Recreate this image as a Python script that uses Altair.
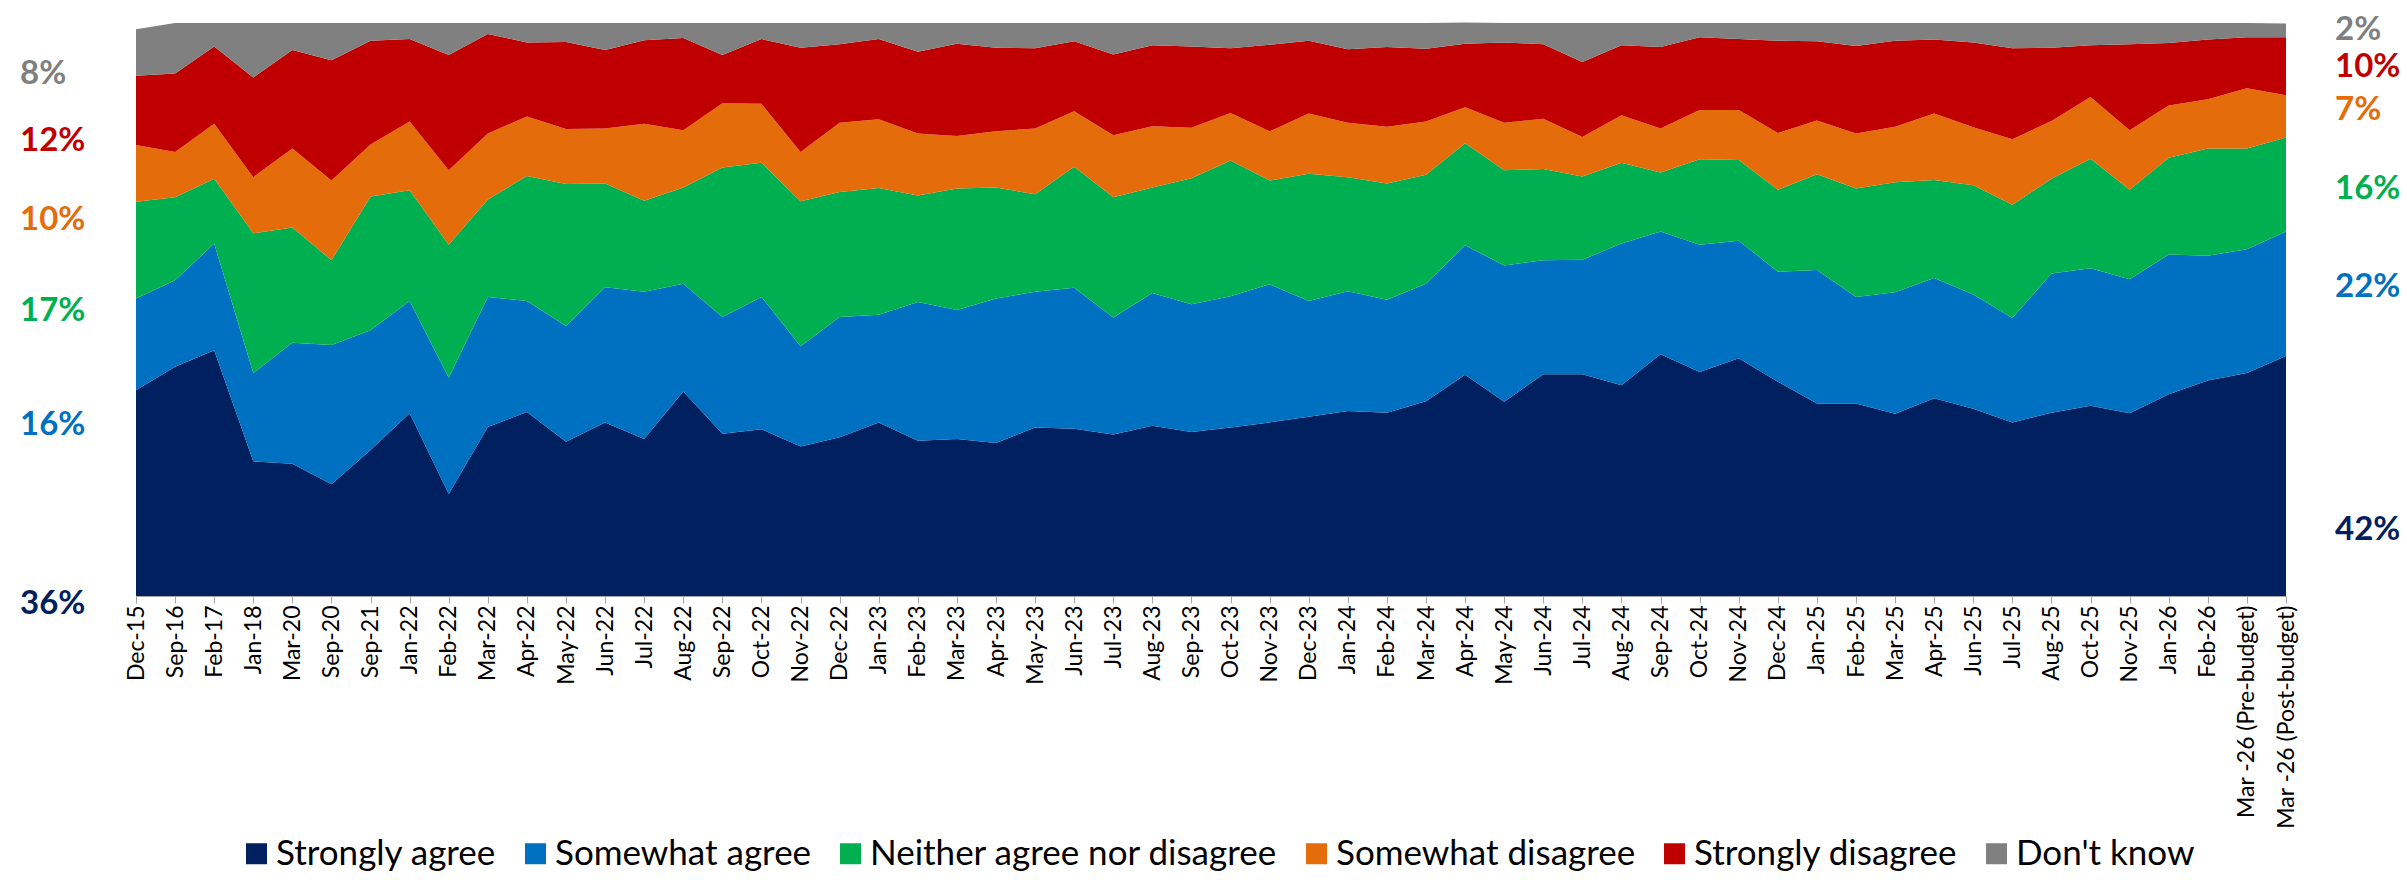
import altair as alt
import pandas as pd

categories = [
    "Dec-15", "Sep-16", "Feb-17", "Jan-18", "Mar-20", "Sep-20", "Sep-21", "Jan-22", "Feb-22", "Mar-22",
    "Apr-22", "May-22", "Jun-22", "Jul-22", "Aug-22", "Sep-22", "Oct-22", "Nov-22", "Dec-22", "Jan-23",
    "Feb-23", "Mar-23", "Apr-23", "May-23", "Jun-23", "Jul-23", "Aug-23", "Sep-23", "Oct-23", "Nov-23",
    "Dec-23", "Jan-24", "Feb-24", "Mar-24", "Apr-24", "May-24", "Jun-24", "Jul-24", "Aug-24", "Sep-24",
    "Oct-24", "Nov-24", "Dec-24", "Jan-25", "Feb-25", "Mar-25", "Apr-25", "Jun-25", "Jul-25", "Aug-25",
    "Oct-25", "Nov-25", "Jan-26", "Feb-26", "Mar -26 (Pre-budget)", "Mar -26 (Post-budget)",
]

strongly_agree = [
    35.9, 40.0, 42.9, 23.5, 23.1, 19.5, 25.5, 31.9, 17.8, 29.5,
    32.1, 26.9, 30.3, 27.4, 35.7, 28.3, 29.1, 26.1, 27.7, 30.3,
    27.1, 27.4, 26.7, 29.4, 29.2, 28.2, 29.7, 28.6, 29.4, 30.3,
    31.3, 32.3, 32.0, 34.0, 38.6, 33.9, 38.7, 38.7, 36.8, 42.2,
    39.1, 41.5, 37.4, 33.6, 33.6, 31.8, 34.5, 32.7, 30.3, 32.0,
    33.2, 31.9, 35.2, 37.6, 38.9, 41.9,
]
somewhat_agree = [
    16.0, 15.1, 18.6, 15.4, 21.1, 24.3, 20.9, 19.6, 20.3, 22.7,
    19.4, 20.2, 23.6, 25.7, 18.8, 20.4, 23.1, 17.5, 21.0, 18.8,
    24.2, 22.5, 25.2, 23.7, 24.6, 20.4, 23.2, 22.3, 22.9, 24.1,
    20.2, 20.9, 19.7, 20.5, 22.6, 23.8, 19.9, 20.0, 24.7, 21.4,
    22.2, 20.5, 19.2, 23.3, 18.6, 21.2, 21.0, 19.9, 18.2, 24.3,
    24.0, 23.4, 24.4, 21.8, 21.6, 21.7,
]
neither = [
    16.9, 14.5, 11.3, 24.4, 20.1, 14.8, 23.3, 19.3, 23.2, 17.0,
    21.8, 24.8, 18.1, 15.9, 16.8, 26.1, 23.4, 25.3, 21.8, 22.1,
    18.6, 21.2, 19.4, 17.0, 21.1, 21.0, 18.4, 22.0, 23.7, 18.1,
    22.2, 19.9, 20.3, 19.0, 17.8, 16.6, 15.9, 14.5, 14.1, 10.3,
    14.9, 14.1, 14.3, 16.7, 18.9, 19.2, 17.1, 19.1, 19.8, 16.5,
    19.1, 15.6, 16.9, 18.7, 17.6, 16.4,
]
somewhat_disagree = [
    9.9, 7.9, 9.6, 9.8, 13.8, 13.9, 9.1, 12.0, 13.0, 11.5,
    10.4, 9.6, 9.6, 13.4, 10.0, 11.2, 10.3, 8.6, 12.1, 12.0,
    10.8, 9.2, 9.8, 11.5, 9.7, 10.8, 10.7, 8.8, 8.3, 8.6,
    10.5, 9.5, 9.9, 9.3, 6.3, 8.3, 8.8, 6.9, 8.3, 7.7,
    8.6, 8.7, 9.9, 9.4, 9.6, 9.7, 11.6, 10.1, 11.4, 10.1,
    10.8, 10.4, 9.1, 8.6, 10.5, 7.4,
]
strongly_disagree = [
    12.1, 13.7, 13.5, 17.4, 17.2, 21.0, 18.1, 14.4, 20.1, 17.4,
    12.9, 15.2, 13.7, 14.6, 16.1, 8.4, 11.3, 18.2, 13.7, 14.0,
    14.3, 16.1, 14.6, 14.0, 12.2, 14.1, 14.1, 14.2, 11.3, 15.1,
    12.7, 12.8, 13.9, 12.7, 11.1, 14.0, 13.0, 13.1, 12.2, 14.2,
    12.7, 12.4, 16.1, 13.8, 15.3, 15.0, 12.9, 14.8, 15.9, 12.8,
    9.0, 15.0, 10.9, 10.4, 8.9, 10.1,
]
dont_know = [
    8.1, 8.8, 4.1, 9.5, 4.7, 6.5, 3.1, 2.8, 5.6, 1.9,
    3.4, 3.3, 4.7, 3.0, 2.6, 5.6, 2.8, 4.3, 3.7, 2.8,
    5.0, 3.6, 4.3, 4.4, 3.2, 5.5, 3.9, 4.1, 4.4, 3.8,
    3.1, 4.6, 4.2, 4.5, 3.7, 3.4, 3.7, 6.8, 3.9, 4.2,
    2.5, 2.8, 3.1, 3.2, 4.0, 3.1, 2.9, 3.4, 4.4, 4.3,
    3.9, 3.7, 3.5, 2.9, 2.5, 2.4,
]

series_names = [
    "Strongly agree", "Somewhat agree", "Neither agree nor disagree",
    "Somewhat disagree", "Strongly disagree", "Don't know",
]
series_values = [strongly_agree, somewhat_agree, neither, somewhat_disagree, strongly_disagree, dont_know]
series_colors = ["#002060", "#0070C0", "#00B050", "#E46C0A", "#C00000", "#808080"]
label_colors = ["#002060", "#0070C0", "#00B050", "#E46C0A", "#C00000", "#7F7F7F"]

rows = []
for s_idx, (name, vals) in enumerate(zip(series_names, series_values)):
    for cat, v in zip(categories, vals):
        rows.append({"period": cat, "series": name, "value": v, "ord": s_idx})
df = pd.DataFrame(rows)

FONT = "Lato"

area = alt.Chart(df).mark_area(opacity=1, interpolate="linear").encode(
    x=alt.X(
        "period:N",
        sort=categories,
        scale=alt.Scale(type="point", padding=0),
        axis=alt.Axis(
            title=None, labelAngle=-90, labelFont=FONT, labelFontSize=23,
            labelColor="#000000", labelPadding=2, tickSize=7, tickColor="#A6A6A6",
            domainColor="#A6A6A6", labelOverlap=False, grid=False, labelLimit=400,
        ),
    ),
    y=alt.Y("value:Q", stack="zero", scale=alt.Scale(domain=[0, 100], nice=False), axis=None),
    color=alt.Color(
        "series:N",
        scale=alt.Scale(domain=series_names, range=series_colors),
        legend=alt.Legend(
            orient="none", legendX=103, legendY=813, direction="horizontal", columns=6,
            title=None, symbolType="square", symbolSize=441, symbolStrokeWidth=0,
            symbolOpacity=1, labelFont=FONT, labelFontSize=35, labelColor="#000000",
            labelLimit=1000, columnPadding=21, labelOffset=2, padding=0,
        ),
    ),
    order=alt.Order("ord:Q", sort="ascending"),
)

# end-point annotation labels (text from the first / last values)
left_y = [581, 402, 288, 197, 118, 51]
right_y = [507, 264, 166, 87, 44, 7]
lab_rows = []
for i, vals in enumerate(series_values):
    lab_rows.append({"text": f"{round(vals[0])}%", "px": -116, "py": left_y[i], "col": label_colors[i]})
    lab_rows.append({"text": f"{round(vals[-1])}%", "px": 2199, "py": right_y[i], "col": label_colors[i]})
lab_df = pd.DataFrame(lab_rows)

labels = alt.Chart(lab_df).mark_text(
    font=FONT, fontSize=33, fontWeight="bold", align="left", baseline="middle"
).encode(
    x=alt.X("px:Q", scale=None, axis=None),
    y=alt.Y("py:Q", scale=None, axis=None),
    text="text:N",
    color=alt.Color("col:N", scale=None, legend=None),
)

chart = alt.layer(area, labels).resolve_scale(
    x="independent", y="independent", color="independent"
).properties(
    width=2150,
    height=573,
    autosize=alt.AutoSizeParams(type="none"),
    padding={"left": 128, "top": 15, "right": 113, "bottom": 276},
).configure_view(stroke=None)

chart.save("out.html", embed_options={"renderer": "svg", "actions": False})
